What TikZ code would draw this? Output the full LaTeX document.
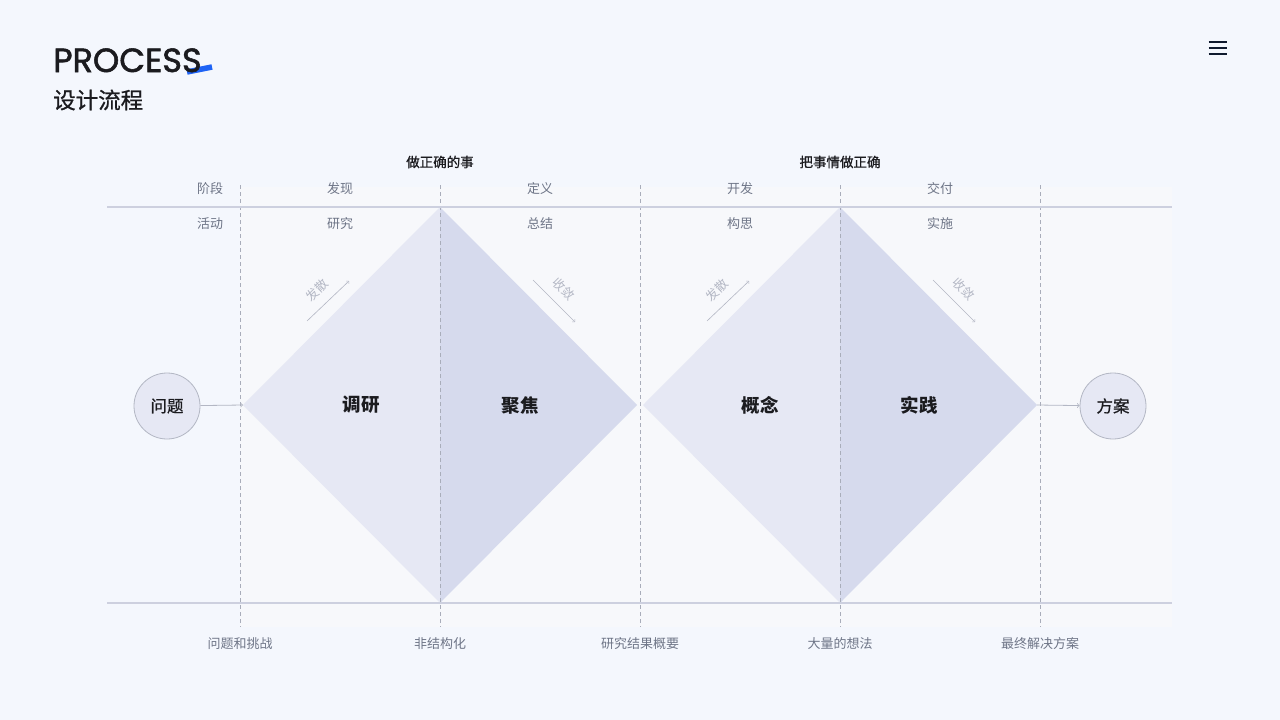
\documentclass[tikz,border=0pt]{standalone}
\usepackage{fontspec}
\setmainfont{Noto Sans CJK SC}
\newfontfamily\titlefont{Poppins}[FakeBold=1.6]
\newfontfamily\medfont{Noto Sans CJK SC}[FakeBold=0.8]
\usetikzlibrary{arrows,positioning}

\definecolor{bgcol}{HTML}{F4F7FD}
\definecolor{panelcol}{HTML}{F7F8FB}
\definecolor{rulecol}{HTML}{CDD0DF}
\definecolor{dashcol}{HTML}{A9ADBA}
\definecolor{leftcol}{HTML}{E6E8F4}
\definecolor{rightcol}{HTML}{D6DAED}
\definecolor{labelcol}{HTML}{6E7587}
\definecolor{hintcol}{HTML}{B3B7C4}
\definecolor{inkcol}{HTML}{1B1B1F}
\definecolor{navycol}{HTML}{0F1A2E}
\definecolor{accentcol}{HTML}{1E63F5}

\begin{document}
\begin{tikzpicture}[x=1pt,y=-1pt,
  lbl/.style={text=labelcol,inner sep=0pt,font=\fontsize{13}{13}\selectfont},
  head/.style={text=inkcol,inner sep=0pt,font=\medfont\fontsize{13.5}{13.5}\selectfont},
  big/.style={text=inkcol,inner sep=0pt,font=\bfseries\fontsize{18.5}{18.5}\selectfont},
  hint/.style={text=hintcol,inner sep=0pt,font=\fontsize{12.5}{12.5}\selectfont},
  circ/.style={draw=hintcol,fill=leftcol,circle,minimum size=66pt,inner sep=0pt,
    line width=0.8pt,text=inkcol,font=\medfont\fontsize{16.5}{16.5}\selectfont},
  flow/.style={draw=hintcol,line width=0.8pt,->},
  grid/.style={draw=dashcol,line width=0.8pt,dash pattern=on 4pt off 3pt}]
\def\colX{240,440,640,840,1040}
\def\topY{207}
\def\botY{603}
\def\midY{405}

%background
\fill[bgcol] (0,0) rectangle (1280,720);
\fill[panelcol] (240,187) rectangle (1172,627);

%title
\draw[accentcol,line width=5.5pt] (187,72) -- (212,67);
\node[anchor=base west,inner sep=0pt,text=inkcol,
  font=\titlefont\fontsize{33.5}{33.5}\selectfont] (title) at (53,72) {PROCESS};
\node[anchor=west,inner sep=0pt,text=inkcol,font=\medfont\fontsize{22.5}{22.5}\selectfont]
  (subtitle) at (53,100) {设计流程};
\foreach \y in {42,48,54}
  \draw[navycol,line width=2.8pt] (1208.5,\y) -- (1226.5,\y);

%diamonds
\foreach \cx [count=\i] in {440,840} {
  \coordinate (top\i) at (\cx,\topY);
  \coordinate (bot\i) at (\cx,\botY);
  \coordinate (lft\i) at (\cx-197,\midY);
  \coordinate (rgt\i) at (\cx+197,\midY);
  \fill[leftcol] (lft\i) -- (top\i) -- (bot\i) -- cycle;
  \fill[rightcol] (top\i) -- (rgt\i) -- (bot\i) -- cycle;
}

%grid
\foreach \x in \colX
  \draw[grid] (\x,185) -- (\x,627);
\draw[rulecol,line width=1.5pt] (107,\topY) -- (1172,\topY);
\draw[rulecol,line width=1.5pt] (107,\botY) -- (1172,\botY);

%headers
\node[head] (doright) at (440,162) {做正确的事};
\node[head] (rightdo) at (840,162) {把事情做正确};
\node[lbl] (stage) at (210,189) {阶段};
\node[lbl] (activity) at (210,224) {活动};
\foreach \x/\p/\a [count=\i] in {340/发现/研究, 540/定义/总结, 740/开发/构思, 940/交付/实施} {
  \node[lbl] (phase\i) at (\x,189) {\p};
  \node[lbl] (act\i) at (\x,224) {\a};
}

%hints
\foreach \cx [count=\i] in {440,840} {
  \coordinate (fsA\i) at (\cx-133,321);
  \coordinate (fsB\i) at (\cx-91,281);
  \coordinate (slA\i) at (\cx+93,280);
  \coordinate (slB\i) at (\cx+135,322);
  \draw[flow,line width=0.6pt] (fsA\i) -- (fsB\i);
  \draw[flow,line width=0.6pt] (slA\i) -- (slB\i);
  \node[hint,rotate=45] (fs\i) at (\cx-123,290) {发散};
  \node[hint,rotate=-45] (sl\i) at (\cx+124,289) {收敛};
}

%steps
\node[big] (diaoyan) at (361,405) {调研};
\node[big] (jujiao) at (520,405) {聚焦};
\node[big] (gainian) at (760,405) {概念};
\node[big] (shijian) at (919,405) {实践};

%ends
\node[circ] (problem) at (167,406) {问题};
\node[circ] (solution) at (1113,406) {方案};
\draw[flow] (problem) -- (lft1);
\draw[flow] (rgt2) -- (solution);

%outputs
\foreach \x/\t [count=\i] in {240/问题和挑战, 440/非结构化, 640/研究结果概要, 840/大量的想法, 1040/最终解决方案}
  \node[lbl] (out\i) at (\x,644) {\t};
\end{tikzpicture}
\end{document}
